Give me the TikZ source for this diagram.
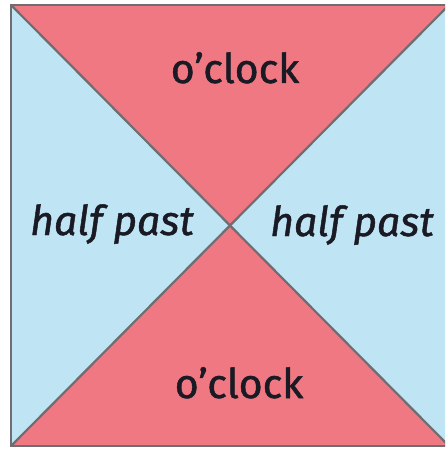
\documentclass[tikz,border=0pt]{standalone}
\usepackage{fontspec}
\setmainfont{Fira Sans}[FakeBold=1.2]
\definecolor{pinkfill}{HTML}{F07882}
\definecolor{bluefill}{HTML}{BFE4F4}
\definecolor{edgegray}{HTML}{6E6E72}
\definecolor{txt}{HTML}{1A1A24}
\begin{document}
\begin{tikzpicture}[x=1pt,y=-1pt,
  lbl/.style={font=\fontsize{41}{43}\selectfont,text=txt,inner sep=0pt},
  edge/.style={draw=edgegray,line width=2.2pt,line join=miter}]
\useasboundingbox (0,0) rectangle (445,449);
\fill[white] (0,0) rectangle (445,449);
\begin{scope}
\clip (0,0) rectangle (445,449);
\coordinate (tl) at (11,5);
\coordinate (tr) at (449,5);
\coordinate (br) at (449,446);
\coordinate (bl) at (11,446);
\coordinate (c) at (230,225.5);
\fill[bluefill] (tl) -- (c) -- (bl) -- cycle;
\fill[bluefill] (tr) -- (c) -- (br) -- cycle;
\fill[pinkfill] (tl) -- (tr) -- (c) -- cycle;
\fill[pinkfill] (bl) -- (br) -- (c) -- cycle;
\draw[edge] (tl) -- (br);
\draw[edge] (tr) -- (bl);
\draw[edge] (tl) rectangle (br);
\end{scope}
\node[lbl,anchor=base] (top) at (235,83) {o’clock};
\node[lbl,anchor=base] (bot) at (239,398) {o’clock};
\node[lbl,anchor=base] (left) at (112,235) {\itshape half past};
\node[lbl,anchor=base] (right) at (352,236) {\itshape half past};
\end{tikzpicture}
\end{document}
